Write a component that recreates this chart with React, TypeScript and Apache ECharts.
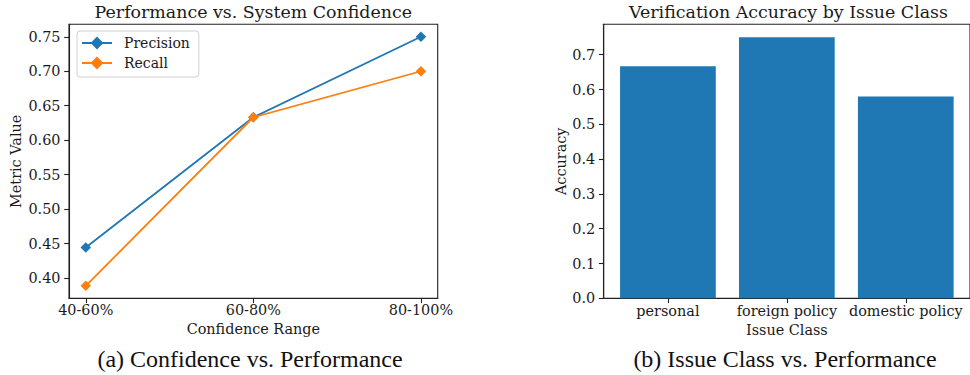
import React, { useEffect, useRef } from "react";
import * as echarts from "echarts";

const confidenceRanges = ["40-60%", "60-80%", "80-100%"];
const precision = [0.4444, 0.6333, 0.75];
const recall = [0.3889, 0.6333, 0.7];
const leftYTicks = [0.4, 0.45, 0.5, 0.55, 0.6, 0.65, 0.7, 0.75];

const issueClasses = ["personal", "foreign policy", "domestic policy"];
const accuracy = [0.6667, 0.75, 0.58];
const rightYTicks = [0, 0.1, 0.2, 0.3, 0.4, 0.5, 0.6, 0.7];

const FONT = "DejaVu Serif";
const TXT = "#1a1a1a";
const BLUE = "#1f77b4";
const ORANGE = "#ff7f0e";

export default function App() {
  const ref = useRef<HTMLDivElement>(null);
  useEffect(() => {
    if (!ref.current) return;
    const chart = echarts.init(ref.current, undefined, { renderer: "svg" });

    const all = [...precision, ...recall];
    const lo = Math.min(...all);
    const hi = Math.max(...all);
    const pad = (hi - lo) * 0.05;
    const accMax = Math.max(...accuracy) * 1.05;

    const tickStyle = { color: "#222", width: 1.1 };
    const labelStyle = { fontFamily: FONT, fontSize: 14.4, color: TXT };

    const option: any = {
      animation: false,
      grid: [
        { left: 69, top: 24.3, width: 368.7, height: 274, show: true, borderColor: "#222", borderWidth: 1.1 },
        { left: 603.7, top: 24.3, width: 368.4, height: 274, show: true, borderColor: "#222", borderWidth: 1.1 },
      ],
      xAxis: [
        {
          type: "value",
          gridIndex: 0,
          min: -0.1,
          max: 2.1,
          splitLine: { show: false },
          axisLine: { show: true, onZero: false, lineStyle: tickStyle },
          axisTick: { show: true, length: 4.8, lineStyle: tickStyle, customValues: [0, 1, 2] },
          axisLabel: {
            ...labelStyle,
            margin: 5,
            customValues: [0, 1, 2],
            formatter: (v: number) => confidenceRanges[Math.round(v)],
          },
          name: "Confidence Range",
          nameLocation: "middle",
          nameGap: 22,
          nameTextStyle: labelStyle,
        },
        {
          type: "value",
          gridIndex: 1,
          min: -0.54,
          max: 2.54,
          splitLine: { show: false },
          axisLine: { show: true, onZero: false, lineStyle: tickStyle },
          axisTick: { show: true, length: 4.8, lineStyle: tickStyle, customValues: [0, 1, 2] },
          axisLabel: {
            ...labelStyle,
            margin: 6,
            customValues: [0, 1, 2],
            formatter: (v: number) => issueClasses[Math.round(v)],
          },
          name: "Issue Class",
          nameLocation: "middle",
          nameGap: 22,
          nameTextStyle: labelStyle,
        },
      ],
      yAxis: [
        {
          type: "value",
          gridIndex: 0,
          min: lo - pad,
          max: hi + pad,
          splitLine: { show: false },
          axisLine: { show: true, onZero: false, lineStyle: tickStyle },
          axisTick: { show: true, length: 4.8, lineStyle: tickStyle, customValues: leftYTicks },
          axisLabel: {
            ...labelStyle,
            margin: 8.5,
            customValues: leftYTicks,
            formatter: (v: number) => v.toFixed(2),
          },
          name: "Metric Value",
          nameLocation: "middle",
          nameRotate: 90,
          nameGap: 46,
          nameTextStyle: labelStyle,
        },
        {
          type: "value",
          gridIndex: 1,
          min: 0,
          max: accMax,
          splitLine: { show: false },
          axisLine: { show: true, onZero: false, lineStyle: tickStyle },
          axisTick: { show: true, length: 4.8, lineStyle: tickStyle, customValues: rightYTicks },
          axisLabel: {
            ...labelStyle,
            margin: 8.5,
            customValues: rightYTicks,
            formatter: (v: number) => v.toFixed(1),
          },
          name: "Accuracy",
          nameLocation: "middle",
          nameRotate: 90,
          nameGap: 35,
          nameTextStyle: labelStyle,
        },
      ],
      legend: {
        orient: "vertical",
        left: 77,
        top: 31,
        padding: [4, 9, 6, 4],
        itemWidth: 30,
        itemHeight: 16,
        itemGap: 4,
        borderColor: "#d0d0d0",
        borderWidth: 1,
        borderRadius: 3,
        backgroundColor: "rgba(255,255,255,0.8)",
        textStyle: { fontFamily: FONT, fontSize: 14, color: TXT, lineHeight: 16, padding: [0, 0, 0, 7] },
        data: ["Precision", "Recall"],
      },
      series: [
        {
          name: "Precision",
          type: "line",
          xAxisIndex: 0,
          yAxisIndex: 0,
          data: precision.map((v, i) => [i, v]),
          symbol: "diamond",
          symbolSize: 10.5,
          color: BLUE,
          lineStyle: { color: BLUE, width: 1.8 },
          itemStyle: { color: BLUE },
        },
        {
          name: "Recall",
          type: "line",
          xAxisIndex: 0,
          yAxisIndex: 0,
          data: recall.map((v, i) => [i, v]),
          symbol: "diamond",
          symbolSize: 10.5,
          color: ORANGE,
          lineStyle: { color: ORANGE, width: 1.8 },
          itemStyle: { color: ORANGE },
        },
        {
          name: "Accuracy",
          type: "bar",
          xAxisIndex: 1,
          yAxisIndex: 1,
          data: accuracy.map((v, i) => [i, v]),
          barWidth: 95.7,
          itemStyle: { color: BLUE },
        },
      ],
      graphic: [
        {
          type: "text",
          x: 253.3,
          y: 12,
          style: {
            text: "Performance vs. System Confidence",
            font: `17.4px "${FONT}"`,
            fill: TXT,
            textAlign: "center",
            textVerticalAlign: "middle",
          },
        },
        {
          type: "text",
          x: 788.5,
          y: 12,
          style: {
            text: "Verification Accuracy by Issue Class",
            font: `17.4px "${FONT}"`,
            fill: TXT,
            textAlign: "center",
            textVerticalAlign: "middle",
          },
        },
        {
          type: "text",
          x: 250,
          y: 359,
          style: {
            text: "(a) Confidence vs. Performance",
            font: `24px "Liberation Serif"`,
            fill: "#111",
            textAlign: "center",
            textVerticalAlign: "middle",
          },
        },
        {
          type: "text",
          x: 785,
          y: 359,
          style: {
            text: "(b) Issue Class vs. Performance",
            font: `24px "Liberation Serif"`,
            fill: "#111",
            textAlign: "center",
            textVerticalAlign: "middle",
          },
        },
      ],
    };

    chart.setOption(option);
    return () => chart.dispose();
  }, []);

  return (
    <div
      ref={ref}
      style={{ position: "fixed", left: 0, top: 0, width: 970, height: 375, background: "#fff" }}
    />
  );
}
